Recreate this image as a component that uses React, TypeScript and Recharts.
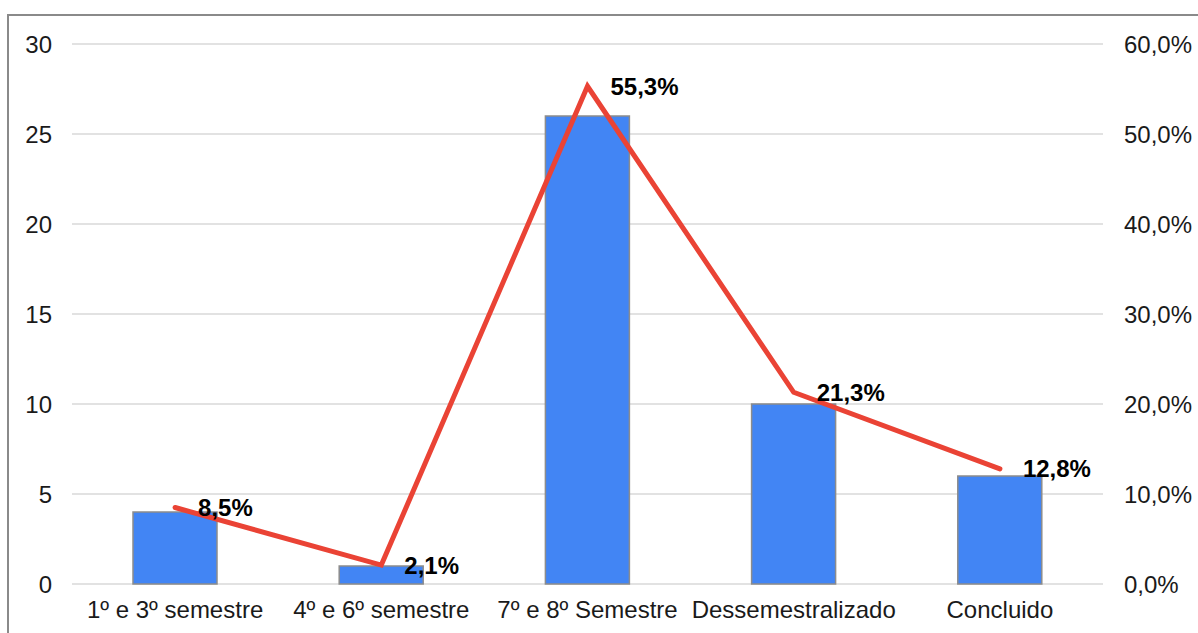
import { Bar, CartesianGrid, ComposedChart, LabelList, Line, XAxis, YAxis } from "recharts";

const categories = ["1º e 3º semestre", "4º e 6º semestre", "7º e 8º Semestre", "Dessemestralizado", "Concluido"];
const counts = [4, 1, 26, 10, 6];
const percents = [8.5, 2.1, 55.3, 21.3, 12.8];
const leftTicks = [0, 5, 10, 15, 20, 25, 30];
const rightTicks = [0, 10, 20, 30, 40, 50, 60];

const data = categories.map((name, i) => ({ name, count: counts[i], pct: percents[i] }));

const FONT = '"Liberation Sans", Arial, sans-serif';
const fmtPct = (v: number) => `${v.toFixed(1).replace(".", ",")}%`;

const PctLabel = (props: any) => {
  const { x, y, value } = props;
  return (
    <text
      x={x + 23}
      y={y}
      dominantBaseline="central"
      textAnchor="start"
      fontFamily={FONT}
      fontSize={24}
      fontWeight="bold"
      fill="#000"
    >
      {fmtPct(value)}
    </text>
  );
};

export default function App() {
  return (
    <div
      style={{
        position: "fixed",
        left: 0,
        top: 0,
        width: 1198,
        height: 633,
        overflow: "hidden",
        background: "#fff",
      }}
    >
      <div
        style={{
          position: "absolute",
          left: 7,
          top: 14,
          width: 1300,
          height: 700,
          border: "2px solid #8a8a8a",
        }}
      />
      <div style={{ position: "absolute", left: 0, top: 0 }}>
        <ComposedChart
          width={1198}
          height={633}
          data={data}
          margin={{ top: 44, right: 0, bottom: 0, left: 0 }}
        >
          <CartesianGrid yAxisId="left" vertical={false} stroke="#d9d9d9" strokeWidth={1.5} />
          <XAxis
            dataKey="name"
            height={49}
            axisLine={false}
            tickLine={false}
            tickSize={0}
            tickMargin={17}
            interval={0}
            tick={{ fontFamily: FONT, fontSize: 24, fill: "#1a1a1a" }}
          />
          <YAxis
            yAxisId="left"
            orientation="left"
            width={72}
            domain={[0, 30]}
            ticks={leftTicks}
            axisLine={false}
            tickLine={false}
            tickSize={0}
            tickMargin={20}
            tick={{ fontFamily: FONT, fontSize: 24, fill: "#1a1a1a" }}
          />
          <YAxis
            yAxisId="right"
            orientation="right"
            width={95}
            domain={[0, 60]}
            ticks={rightTicks}
            tickFormatter={fmtPct}
            axisLine={false}
            tickLine={false}
            tickSize={0}
            tickMargin={21}
            tick={{ fontFamily: FONT, fontSize: 24, fill: "#1a1a1a" }}
          />
          <Bar
            yAxisId="left"
            dataKey="count"
            barSize={84}
            fill="#4285f4"
            stroke="#8c8c8c"
            strokeWidth={1.5}
            isAnimationActive={false}
          />
          <Line
            yAxisId="right"
            dataKey="pct"
            type="linear"
            stroke="#ea4335"
            strokeWidth={5}
            strokeLinecap="round"
            dot={false}
            activeDot={false}
            isAnimationActive={false}
          >
            <LabelList dataKey="pct" content={PctLabel} />
          </Line>
        </ComposedChart>
      </div>
    </div>
  );
}
